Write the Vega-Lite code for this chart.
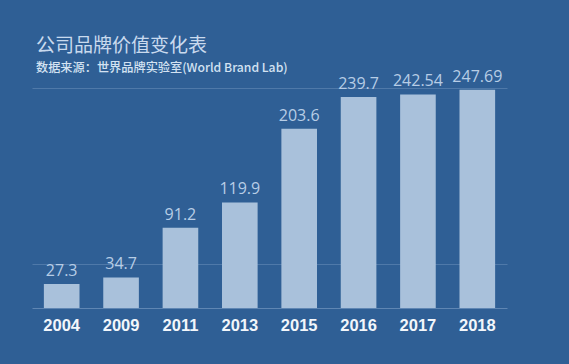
{
  "$schema": "https://vega.github.io/schema/vega-lite/v6.json",
  "autosize": "none",
  "width": 475,
  "height": 229,
  "padding": {"left": 32, "top": 79, "right": 62, "bottom": 56},
  "background": "#2f5f95",
  "title": {
    "text": "公司品牌价值变化表",
    "subtitle": "数据来源：世界品牌实验室(World Brand Lab)",
    "anchor": "start",
    "frame": "group",
    "dx": 4,
    "offset": -5,
    "font": "Noto Sans CJK SC",
    "fontSize": 19,
    "fontWeight": "normal",
    "color": "#c9daee",
    "subtitleFont": "Noto Sans CJK SC",
    "subtitleFontSize": 12.2,
    "subtitleFontWeight": 500,
    "subtitleColor": "#d3e2f2",
    "subtitlePadding": 6
  },
  "data": {
    "values": [
      {"year": "2004", "value": 27.3, "label": "27.3"},
      {"year": "2009", "value": 34.7, "label": "34.7"},
      {"year": "2011", "value": 91.2, "label": "91.2"},
      {"year": "2013", "value": 119.9, "label": "119.9"},
      {"year": "2015", "value": 203.6, "label": "203.6"},
      {"year": "2016", "value": 239.7, "label": "239.7"},
      {"year": "2017", "value": 242.54, "label": "242.54"},
      {"year": "2018", "value": 247.69, "label": "247.69"}
    ]
  },
  "config": {"view": {"stroke": null}},
  "encoding": {
    "x": {
      "field": "year",
      "type": "nominal",
      "sort": null,
      "scale": {"paddingInner": 0.4, "paddingOuter": 0.2},
      "axis": {
        "title": null,
        "labelAngle": 0,
        "labelFont": "Liberation Sans",
        "labelFontSize": 16.5,
        "labelFontWeight": "bold",
        "labelColor": "#f2f6fb",
        "labelPadding": 9,
        "ticks": false,
        "domainColor": "#5f86b3",
        "domainWidth": 1
      }
    },
    "y": {
      "field": "value",
      "type": "quantitative",
      "scale": {"domain": [0, 260], "nice": false},
      "axis": {
        "title": null,
        "labels": false,
        "ticks": false,
        "domain": false,
        "values": [50, 250],
        "gridColor": "#6f93bd",
        "gridOpacity": 0.5
      }
    }
  },
  "layer": [
    {"mark": {"type": "bar", "color": "#a9c1db"}},
    {
      "mark": {"type": "text", "dy": -13, "font": "Open Sans", "fontSize": 16, "color": "#b7cde6"},
      "encoding": {"text": {"field": "label"}}
    }
  ]
}
